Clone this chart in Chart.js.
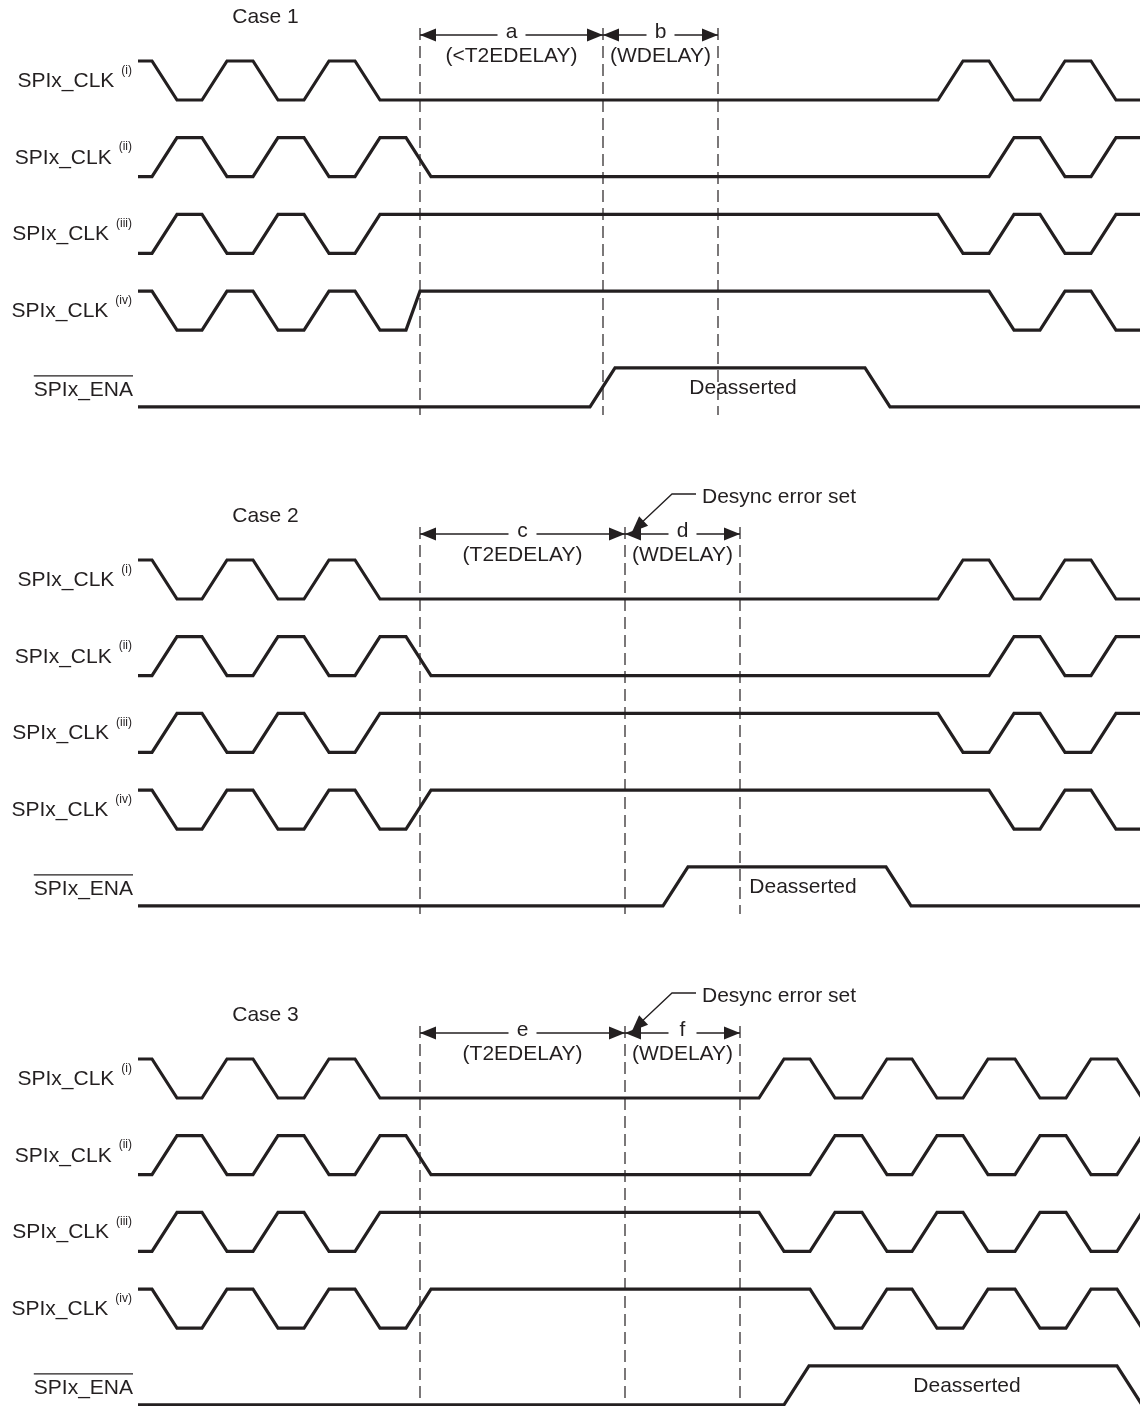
<!DOCTYPE html>
<html>
<head>
<meta charset="utf-8">
<script src="https://cdn.jsdelivr.net/npm/chart.js@4.4.1/dist/chart.umd.min.js"></script>
<style>
html, body { margin: 0; padding: 0; background: #fff; }
#timing { display: block; }
</style>
</head>
<body>
<canvas id="timing" width="1140" height="1406"></canvas>
<script>
// ---- values ----
const caseNames = ["Case 1", "Case 2", "Case 3"];
const signalNames = ["SPIx_CLK", "SPIx_CLK", "SPIx_CLK", "SPIx_CLK", "SPIx_ENA"];
const signalTags = ["(i)", "(ii)", "(iii)", "(iv)", ""];

// level at the left edge (1 = high)
const startLevels = [1, 0, 0, 1, 0];

// edge times for each signal; [t, ramp] where the ramp is not the usual one
const case1Edges = [
	[152, 202, 253, 304, 355, 938, 989, 1040, 1091],
	[152, 202, 253, 304, 355, 406, 989, 1040, 1091],
	[152, 202, 253, 304, 355, 938, 989, 1040, 1091],
	[152, 202, 253, 304, 355, [406, 14], 989, 1040, 1091],
	[590, 865]
];
const case2Edges = [
	[152, 202, 253, 304, 355, 938, 989, 1040, 1091],
	[152, 202, 253, 304, 355, 406, 989, 1040, 1091],
	[152, 202, 253, 304, 355, 938, 989, 1040, 1091],
	[152, 202, 253, 304, 355, 406, 989, 1040, 1091],
	[663, 886]
];
const case3Edges = [
	[152, 202, 253, 304, 355, 759, 810, 862, 912, 963, 1015, 1066, 1117],
	[152, 202, 253, 304, 355, 406, 810, 862, 912, 963, 1015, 1066, 1117],
	[152, 202, 253, 304, 355, 759, 810, 862, 912, 963, 1015, 1066, 1117],
	[152, 202, 253, 304, 355, 406, 810, 862, 912, 963, 1015, 1066, 1117],
	[784, 1117]
];

// dashed time markers
const case1Markers = [420, 603, 718];
const case2Markers = [420, 625, 740];
const case3Markers = [420, 625, 740];

// dimension labels between the markers
const case1Dims = ["a", "b"];
const case2Dims = ["c", "d"];
const case3Dims = ["e", "f"];
const case1Delays = ["(<T2EDELAY)", "(WDELAY)"];
const case2Delays = ["(T2EDELAY)", "(WDELAY)"];
const case3Delays = ["(T2EDELAY)", "(WDELAY)"];

const deassertedText = "Deasserted";
const deassertedAt = [743, 803, 967];
const desyncText = ["", "Desync error set", "Desync error set"];

// ---- layout ----
const caseShift = [0, 499, 998];
const laneTop = 61, laneStep = 76.7, swing = 39, ramp = 25;
const waveStart = 138, waveEnd = 1140;
const markerSpan = [[28, 415], [527, 914], [1026, 1406]];
const dimY = 35;
const ink = "#231f20";
const fontFam = "'Liberation Sans', Arial, sans-serif";

const allEdges = [case1Edges, case2Edges, case3Edges];
const allMarkers = [case1Markers, case2Markers, case3Markers];
const allDims = [case1Dims, case2Dims, case3Dims];
const allDelays = [case1Delays, case2Delays, case3Delays];

function levelY(c, lane, level) {
	return caseShift[c] + laneTop + lane * laneStep + (level ? 0 : swing);
}

function wavePoints(c, lane) {
	let cur = startLevels[lane];
	let pts = [{x: waveStart, y: levelY(c, lane, cur)}];
	allEdges[c][lane].forEach(function(e) {
		let t = Array.isArray(e) ? e[0] : e;
		let w = Array.isArray(e) ? e[1] : ramp;
		pts.push({x: t, y: levelY(c, lane, cur)});
		cur = 1 - cur;
		pts.push({x: t + w, y: levelY(c, lane, cur)});
	});
	pts.push({x: waveEnd + 4, y: levelY(c, lane, cur)});
	return pts;
}

let datasets = [];

caseNames.forEach(function(name, c) {
	// waveforms
	for (let lane = 0; lane < signalNames.length; lane++) {
		datasets.push({
			data: wavePoints(c, lane),
			borderColor: ink,
			borderWidth: 3.2,
			borderJoinStyle: 'miter',
			pointRadius: 0,
			tension: 0
		});
	}
	// dashed markers
	allMarkers[c].forEach(function(m) {
		datasets.push({
			data: [{x: m, y: markerSpan[c][0]}, {x: m, y: markerSpan[c][1]}],
			borderColor: ink,
			borderWidth: 1.2,
			borderDash: [12, 6],
			pointRadius: 0
		});
	});
	// dimension lines, split round the letter
	let y = dimY + caseShift[c];
	for (let i = 0; i < 2; i++) {
		let a = allMarkers[c][i], b = allMarkers[c][i + 1], mid = (a + b) / 2;
		datasets.push({data: [{x: a, y: y}, {x: mid - 14, y: y}], borderColor: ink, borderWidth: 1.3, pointRadius: 0});
		datasets.push({data: [{x: mid + 14, y: y}, {x: b, y: y}], borderColor: ink, borderWidth: 1.3, pointRadius: 0});
	}
	// desync leader
	if (desyncText[c]) {
		let s = caseShift[c] - 499;
		datasets.push({
			data: [{x: 696, y: 494 + s}, {x: 672, y: 494 + s}, {x: 638, y: 526 + s}],
			borderColor: ink,
			borderWidth: 1.3,
			pointRadius: 0
		});
	}
});

function arrowHead(ctx, tx, ty, dx, dy) {
	let len = Math.hypot(dx, dy);
	let ux = dx / len, uy = dy / len;
	let L = 16, H = 6.5;
	ctx.beginPath();
	ctx.moveTo(tx, ty);
	ctx.lineTo(tx - ux * L - uy * H, ty - uy * L + ux * H);
	ctx.lineTo(tx - ux * L + uy * H, ty - uy * L - ux * H);
	ctx.closePath();
	ctx.fill();
}

const diagramText = {
	id: 'diagramText',
	afterDatasetsDraw(chart) {
		const ctx = chart.ctx;
		const px = v => chart.scales.x.getPixelForValue(v);
		const py = v => chart.scales.y.getPixelForValue(v);
		ctx.save();
		ctx.fillStyle = ink;
		ctx.strokeStyle = ink;
		ctx.textBaseline = 'alphabetic';

		caseNames.forEach(function(name, c) {
			let s = caseShift[c];
			ctx.font = "21px " + fontFam;
			ctx.textAlign = 'center';
			ctx.fillText(name, px(265.5), py(23 + s));

			// signal labels
			signalNames.forEach(function(sig, lane) {
				let mid = (levelY(c, lane, 1) + levelY(c, lane, 0)) / 2;
				if (signalTags[lane]) {
					ctx.font = "12px " + fontFam;
					ctx.textAlign = 'right';
					ctx.fillText(signalTags[lane], px(132), py(mid - 7));
					let tw = ctx.measureText(signalTags[lane]).width;
					ctx.font = "21px " + fontFam;
					ctx.fillText(sig, px(132 - tw - 7), py(mid + 6.5));
				} else {
					ctx.font = "21px " + fontFam;
					ctx.textAlign = 'right';
					ctx.fillText(sig, px(133), py(mid + 9));
					let w = ctx.measureText(sig).width;
					ctx.lineWidth = 1.2;
					ctx.beginPath();
					ctx.moveTo(px(133) - w, py(mid - 11.5));
					ctx.lineTo(px(133), py(mid - 11.5));
					ctx.stroke();
				}
			});

			// Deasserted
			let enaMid = (levelY(c, 4, 1) + levelY(c, 4, 0)) / 2;
			ctx.font = "21px " + fontFam;
			ctx.textAlign = 'center';
			ctx.fillText(deassertedText, px(deassertedAt[c]), py(enaMid + 7));

			// dimension letters, delays and arrowheads
			let y = dimY + s;
			for (let i = 0; i < 2; i++) {
				let a = allMarkers[c][i], b = allMarkers[c][i + 1], mid = (a + b) / 2;
				ctx.textAlign = 'center';
				ctx.font = "21px " + fontFam;
				ctx.fillText(allDims[c][i], px(mid), py(y + 3));
				ctx.fillText(allDelays[c][i], px(mid), py(y + 27));
				arrowHead(ctx, px(a), py(y), -1, 0);
				arrowHead(ctx, px(b), py(y), 1, 0);
			}

			// desync note
			if (desyncText[c]) {
				ctx.textAlign = 'left';
				ctx.font = "21px " + fontFam;
				ctx.fillText(desyncText[c], px(702), py(503 + s - 499));
				arrowHead(ctx, px(632), py(532 + s - 499), -1, 0.95);
			}
		});
		ctx.restore();
	}
};

new Chart(document.getElementById('timing'), {
	type: 'line',
	data: {datasets: datasets},
	options: {
		responsive: false,
		animation: false,
		layout: {padding: 0},
		scales: {
			x: {type: 'linear', min: 0, max: 1140, display: false},
			y: {type: 'linear', min: 0, max: 1406, reverse: true, display: false}
		},
		plugins: {
			legend: {display: false},
			tooltip: {enabled: false}
		}
	},
	plugins: [diagramText]
});
</script>
</body>
</html>
